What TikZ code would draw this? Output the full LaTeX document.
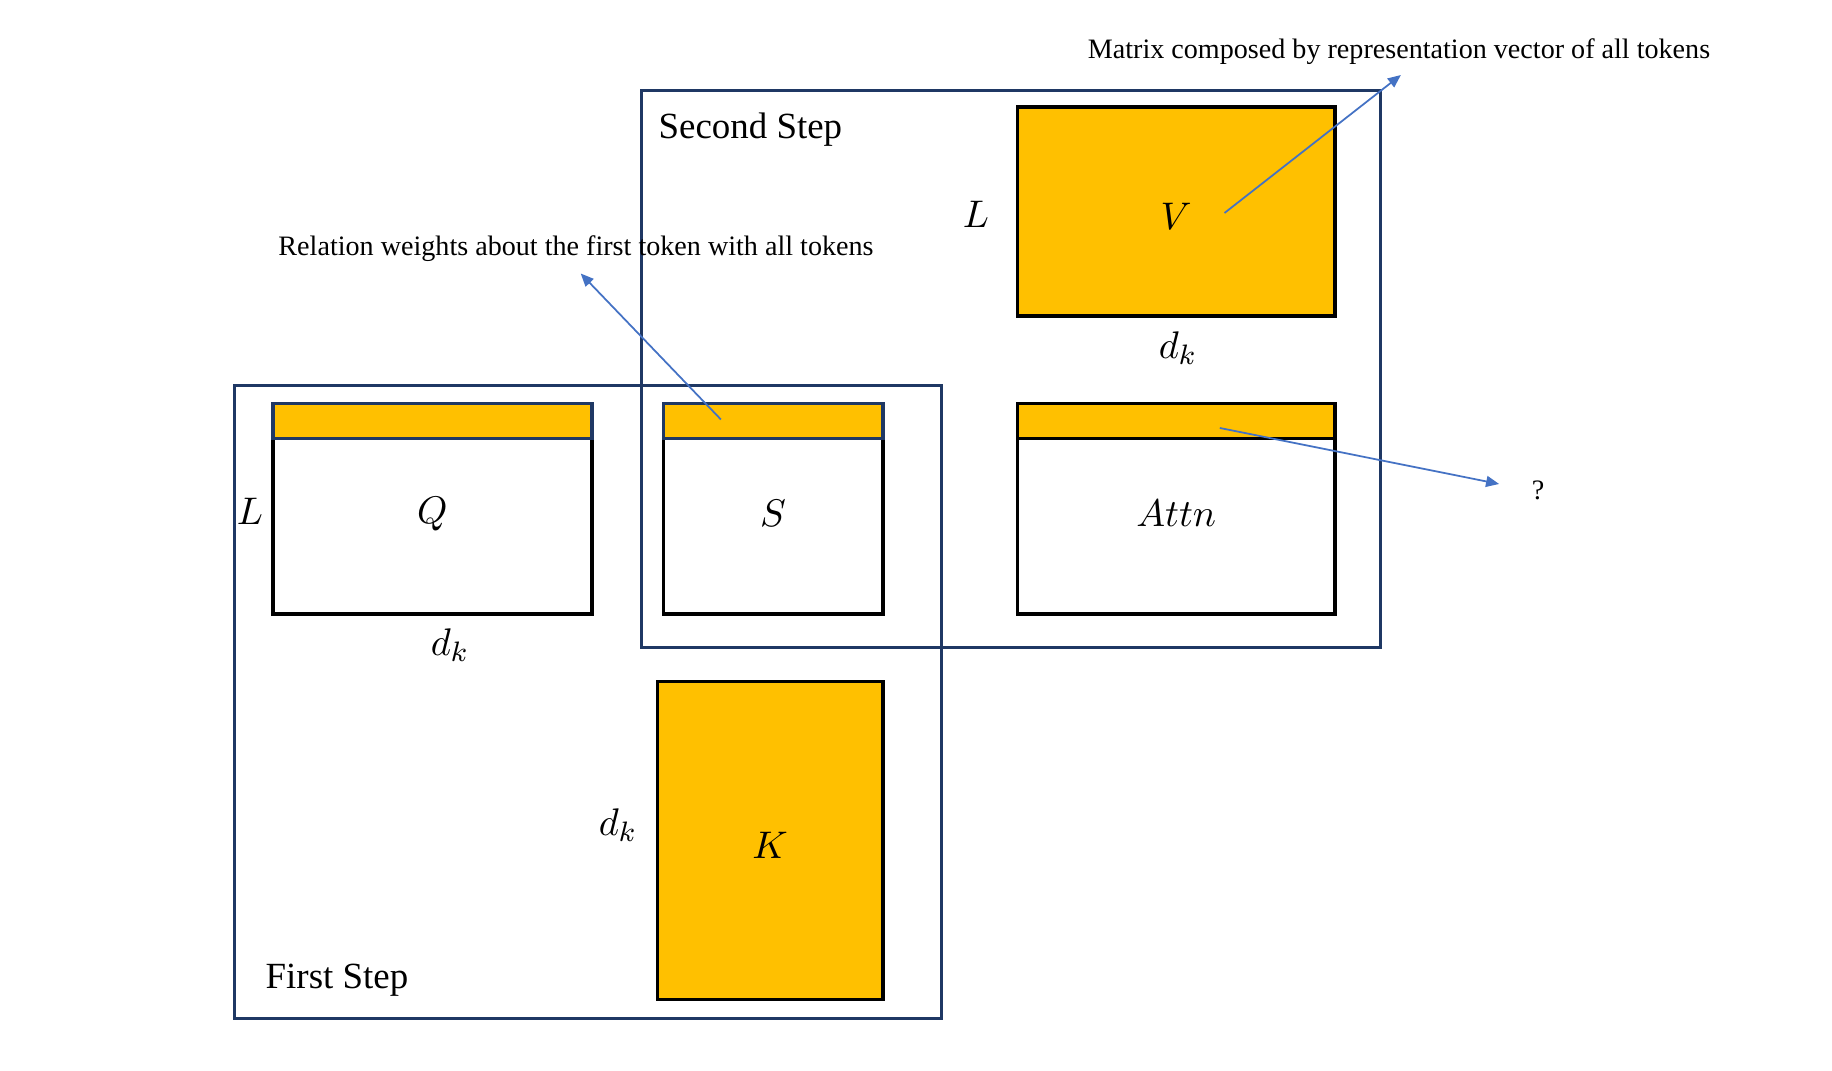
\documentclass[tikz,border=0pt]{standalone}
\usepackage{fontspec}
\setmainfont{Liberation Serif}
\usetikzlibrary{arrows.meta}
\definecolor{gold}{HTML}{FFC000}
\definecolor{navy}{HTML}{1F3864}
\definecolor{pointblue}{HTML}{4472C4}

\begin{document}
\begin{tikzpicture}[
    frame/.style={draw=navy, line width=0.9pt, anchor=south west, inner sep=0pt},
    mat/.style={draw=black, line width=1pt, anchor=south west, inner sep=0pt},
    bar/.style={mat, fill=gold, minimum height=0.351cm},
    dim/.style={font=\fontsize{11}{13}\selectfont},
    inlbl/.style={dim, yshift=-0.05cm},
    steplabel/.style={anchor=west, inner sep=0pt, font=\fontsize{10.5}{12}\selectfont},
    note/.style={font=\fontsize{8}{10}\selectfont},
    pointer/.style={draw=pointblue, line width=0.5pt, -{Triangle[length=1.3mm,width=1.1mm]}}
  ]
  \useasboundingbox (0,0) rectangle (18.32,10.71);

  % the two steps
  \node[frame, minimum width=7.069cm, minimum height=6.333cm] (first) at (2.33,0.51) {};
  \node[frame, minimum width=7.396cm, minimum height=5.573cm] (second) at (6.395,4.215) {};
  \node[steplabel] (firstlbl) at (2.65,0.91) {First Step};
  \node[steplabel] (secondlbl) at (6.58,9.41) {Second Step};

  % matrices
  \node[mat, fill=white, minimum width=3.19cm, minimum height=2.103cm] (q) at (2.712,4.553) {};
  \node[bar, draw=navy, minimum width=3.19cm] (qbar) at (2.712,6.305) {};
  \node[mat, fill=white, minimum width=2.196cm, minimum height=2.103cm] (s) at (6.615,4.553) {};
  \node[bar, draw=navy, minimum width=2.196cm] (sbar) at (6.615,6.305) {};
  \node[mat, fill=white, minimum width=3.178cm, minimum height=2.103cm] (attn) at (10.155,4.553) {};
  \node[bar, minimum width=3.178cm] (attnbar) at (10.155,6.305) {};
  \node[mat, fill=gold, minimum width=3.178cm, minimum height=2.092cm] (v) at (10.155,7.532) {};
  \node[mat, fill=gold, minimum width=2.255cm, minimum height=3.178cm] (k) at (6.556,0.697) {};

  \node[inlbl] (qlbl) at (q.center) {$Q$};
  \node[inlbl] (slbl) at (s.center) {$S$};
  \node[inlbl] (attnlbl) at (attn.center) {$Attn$};
  \node[inlbl] (vlbl) at (v.center) {$V$};
  \node[inlbl] (klbl) at (k.center) {$K$};

  % dimensions
  \node[dim] (qrows) at (2.50,5.60) {$L$};
  \node[dim] (qcols) at (4.50,4.26) {$d_k$};
  \node[dim] (vrows) at (9.76,8.57) {$L$};
  \node[dim] (vcols) at (11.78,7.23) {$d_k$};
  \node[dim] (krows) at (6.18,2.46) {$d_k$};

  % notes
  \node[note] (relnote) at (5.76,8.225) {Relation weights about the first token with all tokens};
  \node[note] (matnote) at (13.99,10.195) {Matrix composed by representation vector of all tokens};
  \node[note] (qmark) at (15.38,5.81) {?};

  \coordinate (sdot) at (7.209,6.515);
  \coordinate (reltip) at (5.807,7.975);
  \coordinate (vdot) at (12.245,8.58);
  \coordinate (mattip) at (14.009,9.96);
  \coordinate (attndot) at (12.198,6.43);
  \coordinate (qtip) at (14.991,5.87);

  \draw[pointer] (sdot) -- (reltip);
  \draw[pointer] (vdot) -- (mattip);
  \draw[pointer] (attndot) -- (qtip);
\end{tikzpicture}
\end{document}
